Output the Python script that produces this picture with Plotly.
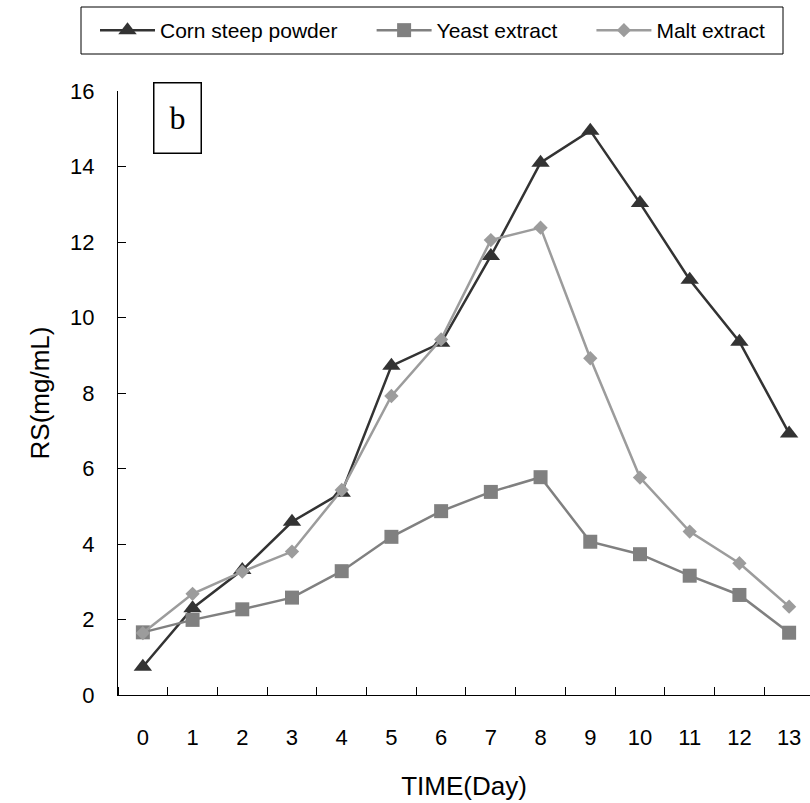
import plotly.graph_objects as go

days = list(range(14))
day_labels = [str(d) for d in days]
corn = [0.75, 2.3, 3.31, 4.59, 5.36, 8.72, 9.33, 11.63, 14.1, 14.95, 13.03, 11.0, 9.36, 6.93]
yeast = [1.66, 1.99, 2.27, 2.58, 3.28, 4.19, 4.87, 5.38, 5.77, 4.06, 3.73, 3.16, 2.65, 1.65]
malt = [1.64, 2.68, 3.27, 3.8, 5.43, 7.92, 9.42, 12.05, 12.38, 8.92, 5.76, 4.33, 3.49, 2.34]
y_ticks = [0, 2, 4, 6, 8, 10, 12, 14, 16]
series_names = ["Corn steep powder", "Yeast extract", "Malt extract"]

W, H = 810, 803
L, R, T, B = 118, 0, 91, 108
pw, ph = W - L - R, H - T - B

def px2x(px):
    return (px - L) / pw

def py2y(py):
    return (H - B - py) / ph

PAD = "\u00a0" * 5

fig = go.Figure()
fig.add_trace(go.Scatter(
    x=days, y=corn, mode="lines+markers", name=series_names[0] + PAD,
    line=dict(color="#333333", width=2.5),
    marker=dict(symbol="triangle-up", size=16, color="#333333")))
fig.add_trace(go.Scatter(
    x=days, y=yeast, mode="lines+markers", name=series_names[1] + PAD,
    line=dict(color="#808080", width=2.5),
    marker=dict(symbol="square", size=14, color="#808080")))
fig.add_trace(go.Scatter(
    x=days, y=malt, mode="lines+markers", name=series_names[2],
    line=dict(color="#9c9c9c", width=2.5),
    marker=dict(symbol="diamond", size=11, color="#9c9c9c")))

fig.update_layout(
    width=W, height=H,
    margin=dict(l=L, r=R, t=T, b=B, autoexpand=False),
    paper_bgcolor="white", plot_bgcolor="white",
    font=dict(family="Liberation Sans, Arial, sans-serif", color="black"),
    showlegend=True,
    legend=dict(
        orientation="h", x=px2x(95), y=py2y(10), xanchor="left", yanchor="top",
        borderwidth=0, bgcolor="rgba(0,0,0,0)",
        font=dict(size=21, family="Liberation Sans, Arial, sans-serif"),
        itemwidth=55, traceorder="normal",
    ),
    xaxis=dict(
        range=[-0.5, 13.42], tickmode="array", tickvals=days, ticktext=day_labels,
        ticks="", showgrid=False, zeroline=False,
        showline=True, linecolor="black", linewidth=1,
        tickfont=dict(size=22), ticklabelstandoff=23,
        minor=dict(tick0=-0.5, dtick=1, ticks="inside", ticklen=8,
                   tickcolor="black", tickwidth=1, showgrid=False),
        title=dict(text="TIME(Day)", font=dict(size=26), standoff=27),
    ),
    yaxis=dict(
        range=[0, 16], tickmode="array", tickvals=y_ticks,
        ticks="inside", ticklen=8, tickcolor="black", tickwidth=1,
        showgrid=False, zeroline=False,
        showline=True, linecolor="black", linewidth=1,
        tickfont=dict(size=22), ticklabelstandoff=18,
        title=dict(text="RS(mg/mL)", font=dict(size=26), standoff=13),
    ),
)

# legend frame
fig.add_shape(type="rect", xref="paper", yref="paper",
              x0=px2x(81), x1=px2x(783), y0=py2y(54), y1=py2y(7),
              line=dict(color="black", width=1), fillcolor="rgba(0,0,0,0)", layer="below")

fig.add_annotation(
    x=px2x(177.5), y=py2y(118), xref="paper", yref="paper",
    xanchor="center", yanchor="middle",
    text="b", showarrow=False,
    font=dict(family="Liberation Serif, Times New Roman, serif", size=32, color="black"),
    bordercolor="black", borderwidth=1.5, borderpad=0,
    width=46, height=69, bgcolor="white",
)

fig.write_html("out.html")
